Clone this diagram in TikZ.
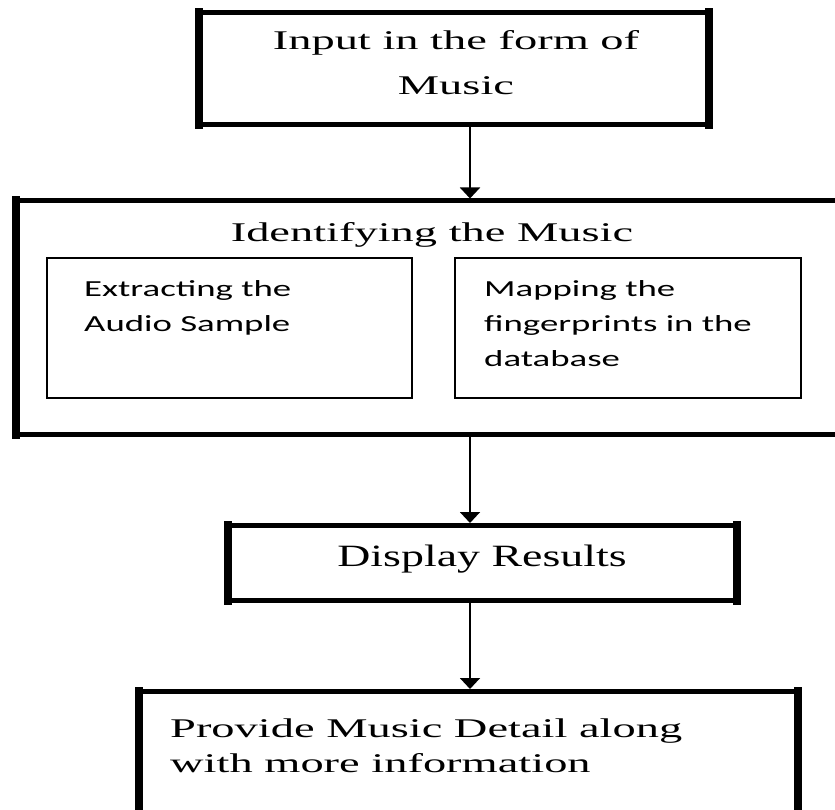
\documentclass[tikz,border=0pt]{standalone}
\usepackage{graphicx}
\usepackage{fontspec}
\setmainfont{Liberation Serif}
\newfontfamily\calfont{Carlito}
\usetikzlibrary{arrows.meta}
\newcommand{\wtext}[3]{\scalebox{#1}[1]{\begin{tabular}[t]{@{}#2@{}}#3\end{tabular}}}
\tikzset{
  box/.style={rectangle,draw=black,line width=5pt,inner sep=0pt,outer sep=0pt},
  subbox/.style={rectangle,draw=black,line width=1.6pt,inner sep=0pt,outer sep=0pt},
  side/.style={line width=8pt},
  arr/.style={-{Triangle[width=20pt,length=11pt]},line width=2pt,shorten >=2.5pt},
  txt/.style={inner sep=0pt,font=\fontsize{27}{45}\selectfont},
  stxt/.style={inner sep=0pt,font=\calfont\fontsize{23}{35}\selectfont}
}
\begin{document}
\begin{tikzpicture}[x=1pt,y=-1pt]
\useasboundingbox (0,0) rectangle (835,810);
\clip (0,0) rectangle (835,810);
\node[box,minimum width=510,minimum height=112] (in) at (454,69) {};
\node[txt,anchor=base] (intxt) at (456,50) {\wtext{1.72}{c}{Input in the form of\\Music}};
\node[box,minimum width=829,minimum height=233.5] (id) at (430.5,317.75) {};
\node[txt,anchor=base] (idtxt) at (432,242) {\wtext{1.72}{c}{Identifying the Music}};
\node[subbox,minimum width=365,minimum height=140] (ex) at (229.5,328) {};
\node[stxt,anchor=base west] (extxt) at (84,297) {\wtext{1.6}{l}{Extracting the\\Audio Sample}};
\node[subbox,minimum width=346,minimum height=140] (mp) at (628,328) {};
\node[stxt,anchor=base west] (mptxt) at (484,297) {\wtext{1.6}{l}{Mapping the\\fingerprints in the\\database}};
\node[box,minimum width=509,minimum height=75] (dr) at (482.5,563) {};
\node[txt,font=\fontsize{31}{40}\selectfont,anchor=base] (drtxt) at (482,566) {\wtext{1.48}{c}{Display Results}};
\node[box,minimum width=659.5,minimum height=148.5] (pd) at (468.25,765.75) {};
\node[txt,font=\fontsize{27}{35}\selectfont,anchor=base west] (pdtxt) at (170,737) {\wtext{1.72}{l}{Provide Music Detail along\\with more information}};
% thick sides of the boxes
\foreach \bx in {in,id,dr,pd} {
  \draw[side] ([yshift=4.5]\bx.north west) -- ([yshift=-4.5]\bx.south west);
  \draw[side] ([yshift=4.5]\bx.north east) -- ([yshift=-4.5]\bx.south east);
}
\coordinate (axis) at (470,0);
\draw[arr] (in.south -| axis) -- (id.north -| axis);
\draw[arr] (id.south -| axis) -- (dr.north -| axis);
\draw[arr] (dr.south -| axis) -- (pd.north -| axis);
\end{tikzpicture}
\end{document}
